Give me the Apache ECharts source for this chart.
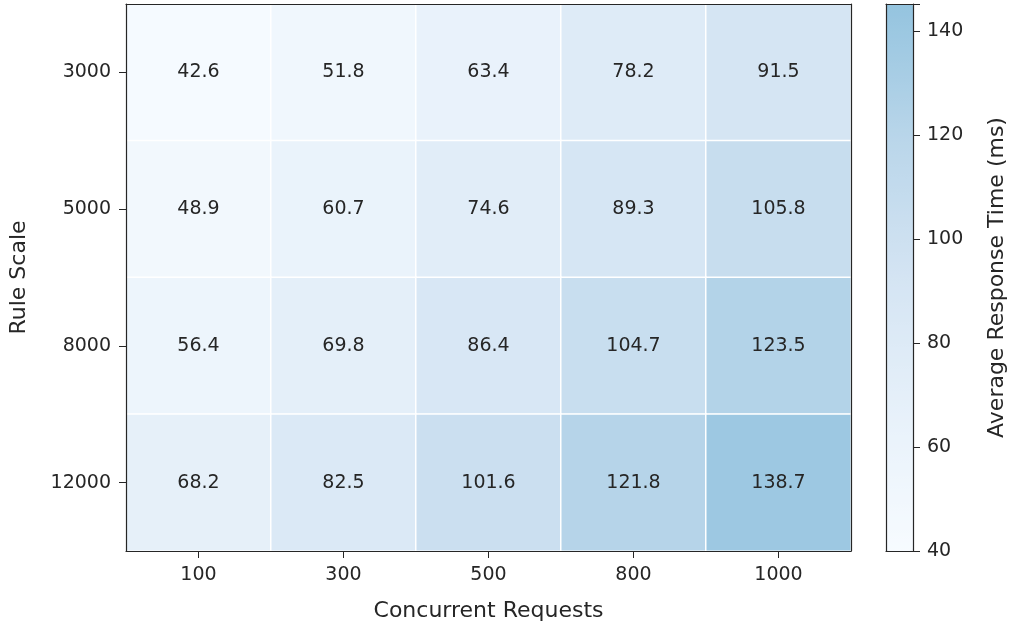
<!DOCTYPE html>
<html>
<head>
<meta charset="utf-8">
<script src="https://cdn.jsdelivr.net/npm/echarts@6/dist/echarts.min.js"></script>
<style>
  html, body { margin: 0; padding: 0; background: #ffffff; }
  #chart { width: 1009px; height: 625px; }
</style>
</head>
<body>
<div id="chart"></div>
<script>
// concurrent requests along x, rule scale along y
const requests = ['100', '300', '500', '800', '1000'];
const ruleScales = ['3000', '5000', '8000', '12000'];

// average response time (ms), one row per rule scale
const row3000 = [42.6, 51.8, 63.4, 78.2, 91.5];
const row5000 = [48.9, 60.7, 74.6, 89.3, 105.8];
const row8000 = [56.4, 69.8, 86.4, 104.7, 123.5];
const row12000 = [68.2, 82.5, 101.6, 121.8, 138.7];

const colorTicks = [40, 60, 80, 100, 120, 140];
const colorMin = 40;
const colorMax = 145.2;

var rows = [row3000, row5000, row8000, row12000];
var cells = [];
rows.forEach(function (row, y) {
    row.forEach(function (v, x) {
        cells.push([x, y, v]);
    });
});

var font = 'DejaVu Sans';
var ink = '#262626';
var axisColor = '#262626';
var frame = { show: true, onZero: false, lineStyle: { color: axisColor, width: 1.2 } };

var chart = echarts.init(document.getElementById('chart'), null, { renderer: 'canvas' });

chart.setOption({
    backgroundColor: '#ffffff',
    animation: false,
    textStyle: { fontFamily: font, color: ink },
    grid: [
        { left: 126, top: 4, width: 725, height: 547, show: false, containLabel: false, outerBoundsMode: 'none' },
        // colour bar axis frame
        { left: 886, top: 4, width: 27, height: 547, show: false, containLabel: false, outerBoundsMode: 'none' }
    ],
    xAxis: [
        {
            type: 'category',
            gridIndex: 0,
            data: requests,
            z: 10,
            name: 'Concurrent Requests',
            nameLocation: 'middle',
            nameGap: 49,
            nameTextStyle: { fontSize: 22, color: ink, fontFamily: font },
            axisLine: frame,
            axisTick: { show: true, alignWithLabel: true, length: 7, lineStyle: { color: axisColor } },
            axisLabel: { fontSize: 19, color: ink, margin: 15, fontFamily: font },
            splitLine: { show: false },
            splitArea: { show: false }
        },
        {
            type: 'category',
            gridIndex: 0,
            position: 'top',
            data: requests,
            z: 10,
            axisLine: frame,
            axisTick: { show: false },
            axisLabel: { show: false }
        },
        {
            type: 'value',
            gridIndex: 1,
            min: 0,
            max: 1,
            zlevel: 1,
            axisLine: frame,
            axisTick: { show: false },
            axisLabel: { show: false },
            splitLine: { show: false }
        },
        {
            type: 'value',
            gridIndex: 1,
            position: 'top',
            min: 0,
            max: 1,
            zlevel: 1,
            axisLine: frame,
            axisTick: { show: false },
            axisLabel: { show: false },
            splitLine: { show: false }
        }
    ],
    yAxis: [
        {
            type: 'category',
            gridIndex: 0,
            data: ruleScales,
            inverse: true,
            z: 10,
            name: 'Rule Scale',
            nameLocation: 'middle',
            nameGap: 96,
            nameRotate: 90,
            nameTextStyle: { fontSize: 22, color: ink, fontFamily: font },
            axisLine: frame,
            axisTick: { show: true, alignWithLabel: true, length: 7, lineStyle: { color: axisColor } },
            axisLabel: { fontSize: 19, color: ink, margin: 15, fontFamily: font },
            splitLine: { show: false },
            splitArea: { show: false }
        },
        {
            type: 'category',
            gridIndex: 0,
            position: 'right',
            data: ruleScales,
            inverse: true,
            z: 10,
            axisLine: frame,
            axisTick: { show: false },
            axisLabel: { show: false }
        },
        {
            type: 'value',
            gridIndex: 1,
            position: 'right',
            min: colorMin,
            max: colorMax,
            interval: 20,
            zlevel: 1,
            name: 'Average Response Time (ms)',
            nameLocation: 'middle',
            nameGap: 73,
            nameRotate: 90,
            nameTextStyle: { fontSize: 22, color: ink, fontFamily: font },
            axisLine: frame,
            axisTick: { show: true, length: 7, lineStyle: { color: axisColor } },
            axisLabel: {
                fontSize: 19, color: ink, margin: 14, fontFamily: font,
                formatter: function (v) { return colorTicks.indexOf(v) >= 0 ? String(v) : ''; }
            },
            splitLine: { show: false }
        },
        {
            type: 'value',
            gridIndex: 1,
            position: 'left',
            min: colorMin,
            max: colorMax,
            zlevel: 1,
            axisLine: frame,
            axisTick: { show: false },
            axisLabel: { show: false },
            splitLine: { show: false }
        }
    ],
    visualMap: {
        type: 'continuous',
        min: colorMin,
        max: colorMax,
        calculable: false,
        realtime: false,
        seriesIndex: 0,
        orient: 'vertical',
        left: 886,
        top: 4,
        padding: 0,
        itemWidth: 27,
        itemHeight: 547,
        showLabel: false,
        text: null,
        inRange: {
            // light end of a Blues ramp
            color: ['#f7fbff', '#e7f1fa', '#d4e4f3', '#bad6ea', '#94c4df']
        }
    },
    series: [
        {
            type: 'heatmap',
            xAxisIndex: 0,
            yAxisIndex: 0,
            data: cells,
            itemStyle: { borderColor: '#ffffff', borderWidth: 1.5 },
            label: {
                show: true,
                fontSize: 19,
                fontFamily: font,
                color: ink,
                formatter: function (p) { return p.value[2].toFixed(1); }
            },
            emphasis: { disabled: true }
        }
    ]
});
</script>
</body>
</html>
